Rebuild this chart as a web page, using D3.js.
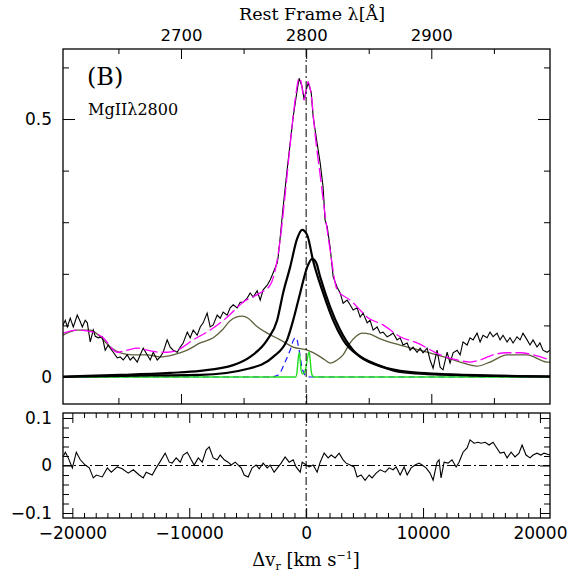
<!DOCTYPE html>
<html><head><meta charset="utf-8">
<script src="https://cdn.jsdelivr.net/npm/d3@7"></script>
<style>body{margin:0;background:#fff}svg{display:block}</style>
</head><body><svg id="c" width="581" height="581"></svg>
<script>
// ---------------- DATA ----------------
const obsV=[-20800,-20600,-20430,-20180,-19920,-19580,-19320,-19150,-18900,-18720,
-18470,-18210,-18040,-17780,-17440,-17190,-16930,-16760,-16500,-16160,
-15910,-15650,-15310,-15050,-14790,-14450,-14190,-13940,-13600,-13340,
-13080,-12740,-12480,-12230,-11890,-11630,-11370,-11030,-10770,-10520,
-10170,-9920,-9660,-9320,-9060,-8810,-8470,-8210,-7950,-7610,
-7350,-7100,-6760,-6500,-6240,-5900,-5640,-5390,-5040,-4790,
-4530,-4190,-3930,-3680,-3330,-3080,-2820,-2480,-2390,-2220,
-1970,-1630,-1370,-1110,-770,-600,-340,-170,0,170,
430,600,940,1200,1450,1620,1800,2050,2310,2650,
2910,3160,3510,3760,4020,4360,4620,4870,5220,5470,
5730,6070,6330,6580,6930,7180,7440,7780,8040,8290,
8640,8890,9150,9490,9750,10000,10350,10600,10860,11200,
11460,11710,12060,12310,12570,12910,13170,13420,13770,14020,
14280,14620,14880,15130,15480,15730,15990,16330,16590,16840,
17190,17440,17700,18040,18300,18550,18900,19150,19410,19750,
20000,20260,20610,20860];
const obsF=[0.101,0.110,0.097,0.114,0.097,0.120,0.107,0.097,0.110,0.105,
0.068,0.091,0.079,0.076,0.078,0.052,0.062,0.056,0.048,0.037,
0.039,0.033,0.043,0.033,0.039,0.029,0.043,0.056,0.043,0.033,
0.048,0.033,0.039,0.048,0.072,0.058,0.052,0.048,0.058,0.066,
0.087,0.076,0.091,0.081,0.097,0.105,0.124,0.097,0.101,0.120,
0.114,0.126,0.120,0.134,0.140,0.134,0.145,0.145,0.153,0.163,
0.155,0.167,0.149,0.169,0.178,0.188,0.202,0.221,0.233,0.271,
0.329,0.401,0.453,0.504,0.556,0.579,0.562,0.537,0.556,0.570,
0.552,0.504,0.453,0.415,0.368,0.304,0.291,0.252,0.194,0.174,
0.163,0.143,0.149,0.140,0.130,0.134,0.116,0.124,0.105,0.110,
0.091,0.097,0.085,0.087,0.078,0.081,0.085,0.072,0.076,0.062,
0.066,0.052,0.058,0.048,0.056,0.047,0.056,0.033,0.017,0.052,
0.019,0.014,0.048,0.027,0.047,0.052,0.043,0.068,0.062,0.076,
0.072,0.085,0.068,0.081,0.076,0.087,0.078,0.085,0.072,0.081,
0.068,0.076,0.066,0.078,0.072,0.085,0.072,0.062,0.072,0.058,
0.066,0.052,0.048,0.052];

const fitV=[-20800,-19580,-18210,-17360,-16160,-15310,-14450,-13600,-12480,-11890,-11030,-9660,-8210,-6760,-5390,-3930,-3080,-2650,-2220,-1800,-1370,-940,-600,-430,-170,0,170,430,770,1200,1620,2050,2650,3760,4360,5220,6580,8040,9490,11460,12910,14020,14880,15990,17190,18300,19410,20860];
const fitF=[0.085,0.091,0.087,0.076,0.048,0.052,0.056,0.052,0.048,0.048,0.052,0.072,0.091,0.116,0.145,0.163,0.178,0.207,0.266,0.353,0.450,0.537,0.579,0.572,0.537,0.556,0.572,0.547,0.469,0.391,0.314,0.246,0.169,0.149,0.136,0.116,0.101,0.078,0.066,0.043,0.033,0.029,0.033,0.043,0.047,0.047,0.043,0.033];

const feV=[-20800,-19580,-18470,-17610,-16760,-15910,-14790,-13600,-12480,-11370,-10170,-9060,-7950,-7180,-6500,-5990,-5470,-4960,-4360,-3330,-2220,-1110,90,940,1620,2050,2650,3160,3760,4280,4790,5470,6330,8040,10350,12060,13170,14620,15730,17190,18900,20610,20860];
const feF=[0.081,0.091,0.091,0.078,0.058,0.047,0.043,0.043,0.039,0.043,0.052,0.066,0.076,0.091,0.109,0.116,0.118,0.114,0.101,0.085,0.072,0.058,0.052,0.043,0.033,0.027,0.033,0.043,0.066,0.079,0.085,0.083,0.074,0.062,0.048,0.037,0.029,0.021,0.029,0.043,0.043,0.029,0.029];

const b1V=[-20800,-15910,-11630,-9060,-6240,-4790,-3330,-2480,-1970,-1370,-770,-340,90,600,1450,2310,3160,4620,6580,8040,12310,20860];
const b1F=[0.001,0.004,0.008,0.012,0.023,0.039,0.072,0.110,0.163,0.213,0.268,0.285,0.275,0.225,0.163,0.110,0.072,0.039,0.019,0.010,0.004,0.001];

const b2V=[-20800,-13340,-9060,-4790,-2820,-1630,-1110,-510,90,510,850,1200,2050,2910,4020,5730,8040,12310,20860];
const b2F=[0.000,0.003,0.004,0.017,0.039,0.072,0.110,0.163,0.213,0.229,0.222,0.194,0.136,0.091,0.052,0.027,0.012,0.005,0.001];

const blV=[-20800,-3080,-2390,-1800,-1370,-1030,-860,-600,-340,0,340,20860];
const blF=[0,0,0.004,0.029,0.052,0.074,0.076,0.052,0.017,0.002,0,0];

const grV=[-20800,-900,-780,-680,-600,-520,-420,-300,-170,-50,80,200,260,340,430,550,700,20860];
const grF=[0,0,0.010,0.035,0.047,0.035,0.012,0.006,0.008,0.015,0.032,0.046,0.048,0.035,0.012,0.002,0,0];

const resV=[-20800,-20600,-20350,-20000,-19660,-19320,-18900,-18550,-18210,-17950,
-17440,-17010,-16670,-16160,-15730,-15220,-14790,-14280,-13940,-13680,
-13170,-12830,-12570,-12060,-11710,-11460,-11120,-10770,-10520,-10170,
-9830,-9580,-9230,-8890,-8550,-8290,-7950,-7610,-7350,-7010,
-6670,-6410,-6070,-5560,-5300,-4960,-4620,-4280,-4020,-3680,
-3330,-3080,-2740,-2390,-2140,-1800,-1450,-1110,-860,-510,
-340,0,260,600,940,1200,1540,1880,2140,2480,
2820,3160,3420,3760,4100,4360,4700,5040,5390,5640,
5990,6330,6760,7100,7440,7700,8040,8380,8640,8980,
9320,9660,9920,10260,10600,10860,11200,11370,11540,11800,
12140,12480,12830,13080,13420,13770,14020,14360,14710,14960,
15310,15650,15990,16250,16590,16930,17190,17530,17870,18210,
18470,18810,19150,19410,19750,20090,20350,20860];
const resF=[0.018,0.028,0.016,-0.005,0.028,0.012,0.001,-0.005,-0.026,-0.020,
-0.024,-0.005,-0.014,-0.003,-0.007,-0.016,-0.009,-0.020,-0.026,-0.014,
-0.020,-0.005,0.005,0.026,0.007,0.005,0.016,0.007,0.022,0.028,
0.012,0.001,0.016,0.007,0.033,0.039,0.016,0.012,0.022,0.012,
0.007,0.001,0.007,-0.005,-0.020,-0.024,-0.005,0.001,-0.007,0.005,
-0.005,0.001,-0.014,-0.003,0.005,0.018,0.007,0.012,-0.003,-0.014,
0.007,0.001,-0.003,0.001,-0.014,0.007,0.026,0.016,0.022,0.016,
0.026,0.012,0.005,0.001,-0.003,-0.024,-0.020,-0.031,-0.020,-0.026,
-0.016,-0.009,-0.014,-0.005,-0.009,-0.003,-0.020,-0.003,-0.020,-0.005,
0.001,0.005,0.001,-0.005,-0.016,-0.031,0.007,0.012,-0.026,0.007,
0.005,0.012,-0.003,0.007,0.028,0.037,0.054,0.047,0.049,0.047,
0.049,0.043,0.049,0.039,0.026,0.028,0.016,0.028,0.018,0.026,
0.043,0.022,0.016,0.022,0.026,0.022,0.026,0.022];

const lamMajor=[2700,2800,2900];
const lamMinor=[2650,2750,2850,2950];
const topYMajor=[0,0.5];
const topYMinor=[0.1,0.2,0.3,0.4,0.6];
const velMajor=[-20000,-10000,0,10000,20000];
const resYMajor=[-0.1,0,0.1];
const resYMinor=[-0.08,-0.06,-0.04,-0.02,0.02,0.04,0.06,0.08];

// ---------------- LAYOUT ----------------
const L=63,R=550,T1=49,B1=404,T2=413,B2=518;
const C=299792.458, LAM0=2800;
const svg=d3.select("#c");
const x=d3.scaleLinear().domain([-20800,20860]).range([L,R]);
const lam=d3.scaleLinear().domain([LAM0*(1-20800/C),LAM0*(1+20860/C)]).range([L,R]);
const yT=d3.scaleLinear().domain([-0.0523,0.6357]).range([B1,T1]);
const yB=d3.scaleLinear().domain([-0.1105,0.1105]).range([B2,T2]);

const defs=svg.append("defs");
defs.append("clipPath").attr("id","cp1").append("rect").attr("x",L).attr("y",T1).attr("width",R-L).attr("height",B1-T1);
defs.append("clipPath").attr("id","cp2").append("rect").attr("x",L).attr("y",T2).attr("width",R-L).attr("height",B2-T2);

const NUMFONT="DejaVu Sans", TXTFONT="DejaVu Serif";
function styleAxis(g,size){
  g.select(".domain").remove();
  g.attr("font-family",NUMFONT).attr("font-size",size||17);
  g.selectAll("line").attr("stroke","#000").attr("stroke-width",1);
  g.selectAll("text").attr("fill","#000");
}
const minusFmt=d=>d<0?"\u2212"+String(Math.abs(d)):String(d);

// ---------- top panel axes ----------
svg.append("g").attr("transform",`translate(0,${T1})`)
 .call(d3.axisTop(lam).tickValues(lamMajor).tickSizeInner(-10).tickSizeOuter(0).tickPadding(8).tickFormat(d3.format("d")))
 .call(g=>styleAxis(g,16.5));
svg.append("g").attr("transform",`translate(0,${T1})`)
 .call(d3.axisTop(lam).tickValues(lamMinor).tickSizeInner(-5).tickSizeOuter(0).tickFormat(""))
 .call(g=>styleAxis(g));
svg.append("g").attr("transform",`translate(0,${B1})`)
 .call(d3.axisBottom(lam).tickValues(lamMajor).tickSizeInner(-10).tickSizeOuter(0).tickFormat(""))
 .call(g=>styleAxis(g));
svg.append("g").attr("transform",`translate(0,${B1})`)
 .call(d3.axisBottom(lam).tickValues(lamMinor).tickSizeInner(-6).tickSizeOuter(0).tickFormat(""))
 .call(g=>styleAxis(g));
svg.append("g").attr("transform",`translate(${L},0)`)
 .call(d3.axisLeft(yT).tickValues(topYMajor).tickSizeInner(-12).tickSizeOuter(0).tickPadding(11).tickFormat(d=>d===0?"0":String(d)))
 .call(g=>styleAxis(g));
svg.append("g").attr("transform",`translate(${L},0)`)
 .call(d3.axisLeft(yT).tickValues(topYMinor).tickSizeInner(-6).tickSizeOuter(0).tickFormat(""))
 .call(g=>styleAxis(g));
svg.append("g").attr("transform",`translate(${R},0)`)
 .call(d3.axisRight(yT).tickValues(topYMajor).tickSizeInner(-12).tickSizeOuter(0).tickFormat(""))
 .call(g=>styleAxis(g));
svg.append("g").attr("transform",`translate(${R},0)`)
 .call(d3.axisRight(yT).tickValues(topYMinor).tickSizeInner(-6).tickSizeOuter(0).tickFormat(""))
 .call(g=>styleAxis(g));

// ---------- bottom panel axes ----------
const velMinor=d3.range(-20000,20001,1000).filter(v=>v%10000!==0);
svg.append("g").attr("transform",`translate(0,${B2})`)
 .call(d3.axisBottom(x).tickValues(velMajor).tickSizeInner(-10).tickSizeOuter(0).tickPadding(9).tickFormat(minusFmt))
 .call(g=>styleAxis(g));
svg.append("g").attr("transform",`translate(0,${B2})`)
 .call(d3.axisBottom(x).tickValues(velMinor).tickSizeInner(-5).tickSizeOuter(0).tickFormat(""))
 .call(g=>styleAxis(g));
svg.append("g").attr("transform",`translate(0,${T2})`)
 .call(d3.axisTop(x).tickValues(velMajor).tickSizeInner(-10).tickSizeOuter(0).tickFormat(""))
 .call(g=>styleAxis(g));
svg.append("g").attr("transform",`translate(0,${T2})`)
 .call(d3.axisTop(x).tickValues(velMinor).tickSizeInner(-5).tickSizeOuter(0).tickFormat(""))
 .call(g=>styleAxis(g));
svg.append("g").attr("transform",`translate(${L},0)`)
 .call(d3.axisLeft(yB).tickValues(resYMajor).tickSizeInner(-10).tickSizeOuter(0).tickPadding(11).tickFormat(d=>d===0?"0":minusFmt(d)))
 .call(g=>styleAxis(g));
svg.append("g").attr("transform",`translate(${L},0)`)
 .call(d3.axisLeft(yB).tickValues(resYMinor).tickSizeInner(-6).tickSizeOuter(0).tickFormat(""))
 .call(g=>styleAxis(g));
svg.append("g").attr("transform",`translate(${R},0)`)
 .call(d3.axisRight(yB).tickValues(resYMajor).tickSizeInner(-10).tickSizeOuter(0).tickFormat(""))
 .call(g=>styleAxis(g));
svg.append("g").attr("transform",`translate(${R},0)`)
 .call(d3.axisRight(yB).tickValues(resYMinor).tickSizeInner(-6).tickSizeOuter(0).tickFormat(""))
 .call(g=>styleAxis(g));

// ---------- curves ----------
const zip=(a,b)=>a.map((v,i)=>[v,b[i]]);
const p1=svg.append("g").attr("clip-path","url(#cp1)");
const lineT=(curve)=>d3.line().x(d=>x(d[0])).y(d=>yT(d[1])).curve(curve);
const smooth=d3.curveMonotoneX;

p1.append("path").attr("d",lineT(smooth)(zip(feV,feF))).attr("fill","none").attr("stroke","#5f5f3c").attr("stroke-width",1.3);
p1.append("path").attr("d",lineT(smooth)(zip(blV,blF))).attr("fill","none").attr("stroke","#1a1aff").attr("stroke-width",1.2).attr("stroke-dasharray","6,4");
p1.append("path").attr("d",lineT(smooth)(zip(grV,grF))).attr("fill","none").attr("stroke","#22dd22").attr("stroke-width",1.4);
p1.append("path").attr("d",lineT(smooth)(zip(b1V,b1F))).attr("fill","none").attr("stroke","#000").attr("stroke-width",2.2);
p1.append("path").attr("d",lineT(smooth)(zip(b2V,b2F))).attr("fill","none").attr("stroke","#000").attr("stroke-width",2.2);
p1.append("path").attr("d",lineT(d3.curveLinear)(zip(obsV,obsF))).attr("fill","none").attr("stroke","#000").attr("stroke-width",1.1);
p1.append("path").attr("d",lineT(smooth)(zip(fitV,fitF))).attr("fill","none").attr("stroke","#ff00ff").attr("stroke-width",1.3).attr("stroke-dasharray","14,4");

// vertical dash-dot at v=0
const dd="8,3,2,3";
svg.append("line").attr("x1",x(0)).attr("x2",x(0)).attr("y1",T1).attr("y2",B1).attr("stroke","#000").attr("stroke-width",1).attr("stroke-dasharray",dd);

// bottom panel
const p2=svg.append("g").attr("clip-path","url(#cp2)");
p2.append("line").attr("x1",L).attr("x2",R).attr("y1",yB(0)).attr("y2",yB(0)).attr("stroke","#000").attr("stroke-width",1).attr("stroke-dasharray",dd);
p2.append("line").attr("x1",x(0)).attr("x2",x(0)).attr("y1",T2).attr("y2",B2).attr("stroke","#000").attr("stroke-width",1).attr("stroke-dasharray",dd);
p2.append("path").attr("d",d3.line().x(d=>x(d[0])).y(d=>yB(d[1]))(zip(resV,resF))).attr("fill","none").attr("stroke","#000").attr("stroke-width",1.1);

// frames
svg.append("rect").attr("x",L).attr("y",T1).attr("width",R-L).attr("height",B1-T1).attr("fill","none").attr("stroke","#000").attr("stroke-width",1.3);
svg.append("rect").attr("x",L).attr("y",T2).attr("width",R-L).attr("height",B2-T2).attr("fill","none").attr("stroke","#000").attr("stroke-width",1.3);

// texts
svg.append("text").attr("x",312).attr("y",20).attr("text-anchor","middle").attr("font-family",TXTFONT).attr("font-size",17.5).text("Rest Frame \u03bb[\u00c5]");
svg.append("text").attr("x",87).attr("y",85).attr("font-family",TXTFONT).attr("font-size",24).text("(B)");
svg.append("text").attr("x",88).attr("y",115).attr("font-family",TXTFONT).attr("font-size",16).text("MgII\u03bb2800");
const xt=svg.append("text").attr("x",306).attr("y",566).attr("text-anchor","middle").attr("font-family",TXTFONT).attr("font-size",18);
xt.append("tspan").text("\u0394v");
xt.append("tspan").attr("font-size",11).attr("dy",4).text("r");
xt.append("tspan").attr("dy",-4).text(" [km s");
xt.append("tspan").attr("font-size",11).attr("dy",-7).text("\u22121");
xt.append("tspan").attr("dy",7).text("]");
</script></body></html>
